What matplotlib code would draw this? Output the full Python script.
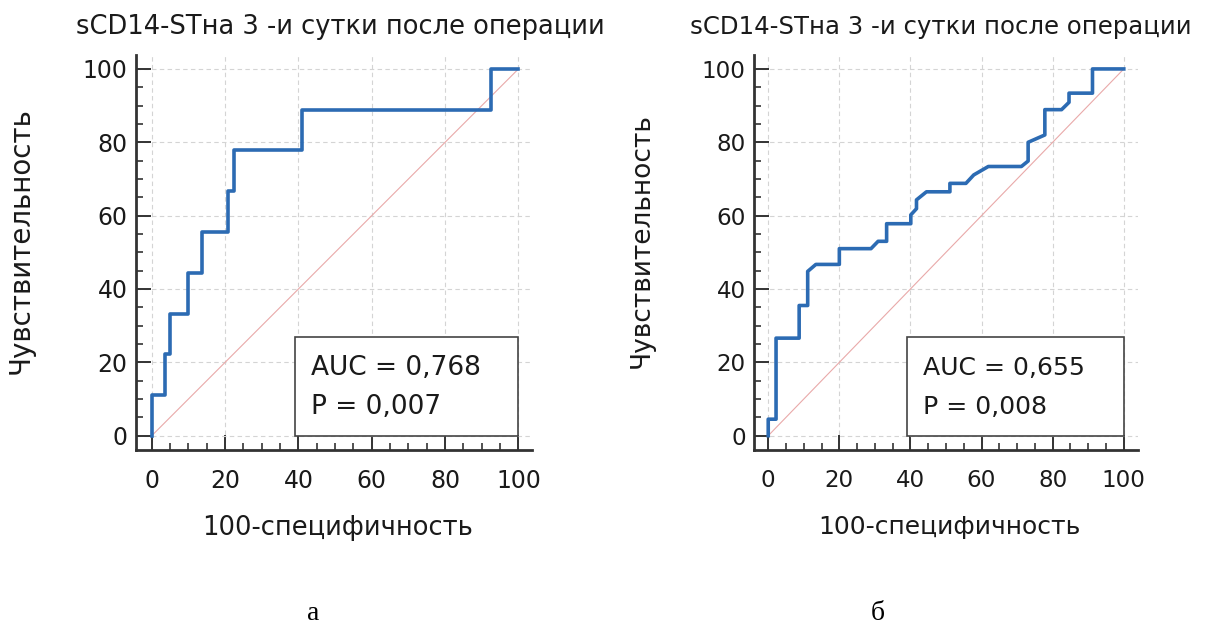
import matplotlib
matplotlib.use("Agg")
import matplotlib.pyplot as plt
from matplotlib.ticker import MultipleLocator
from matplotlib.patches import Rectangle

plt.rcParams['font.family'] = ['DejaVu Sans']

title = "sCD14-STна 3 -и сутки после операции"
xlabel = "100-специфичность"
ylabel = "Чувствительность"

# panel a: ROC steps (100-specificity, sensitivity)
fpr_a = [0, 0, 3.6, 3.6, 5, 5, 10, 10, 13.6, 13.6, 20.9, 20.9, 22.3, 22.3,
         40.9, 40.9, 92.5, 92.5, 100]
tpr_a = [0, 11.1, 11.1, 22.2, 22.2, 33.3, 33.3, 44.4, 44.4, 55.6, 55.6, 66.7,
         66.7, 77.8, 77.8, 88.9, 88.9, 100, 100]
auc_a = "AUC = 0,768"
p_a = "P = 0,007"

# panel b
fpr_b = [0, 0, 2.2, 2.2, 8.7, 8.7, 11.1, 11.1, 13.4, 20, 20, 28.9, 30.9, 33.3,
         33.3, 40.1, 40.1, 41.7, 41.7, 44.5, 51.1, 51.1, 55.6, 57.8, 61.9, 71.2,
         73.1, 73.1, 77.8, 77.8, 82.5, 84.6, 84.6, 91.2, 91.2, 100]
tpr_b = [0, 4.5, 4.5, 26.6, 26.6, 35.5, 35.5, 44.8, 46.7, 46.7, 51, 51, 53, 53,
         57.8, 57.8, 60.2, 61.9, 64.3, 66.5, 66.5, 68.8, 68.8, 71.1, 73.4, 73.4,
         74.9, 80, 82, 88.9, 88.9, 90.9, 93.4, 93.4, 100, 100]
auc_b = "AUC = 0,655"
p_b = "P = 0,008"

W, H = 1211, 626
fig = plt.figure(figsize=(W / 100, H / 100), dpi=100)


def panel(left_px, right_px, xlim, fpr, tpr, auc, p, title_x, ylab_x, k):
	# k scales the text a little: the right panel was pasted slightly smaller
	top_px, bot_px = 55, 450
	ax = fig.add_axes([left_px / W, (H - bot_px) / H,
	                   (right_px - left_px) / W, (bot_px - top_px) / H])
	ax.set_xlim(*xlim)
	ax.set_ylim(-3.9, 103.8)
	ax.plot([0, 100], [0, 100], color='#e9a9a9', lw=0.8, zorder=2)
	ax.plot(fpr, tpr, color='#2c6bb3', lw=2.6, zorder=3, clip_on=False)

	for s in ['top', 'right']:
		ax.spines[s].set_visible(False)
	for s in ['left', 'bottom']:
		ax.spines[s].set_linewidth(2)
		ax.spines[s].set_color('#333333')

	ax.xaxis.set_major_locator(MultipleLocator(20))
	ax.yaxis.set_major_locator(MultipleLocator(20))
	ax.xaxis.set_minor_locator(MultipleLocator(5))
	ax.yaxis.set_minor_locator(MultipleLocator(5))
	ax.tick_params(which='major', direction='in', length=11, width=1.4,
	               color='#333333', labelsize=17 * (1 + k) / 2,
	               labelcolor='#1a1a1a')
	ax.tick_params(which='minor', direction='in', length=5, width=1.2,
	               color='#333333')
	ax.tick_params(axis='x', which='major', pad=14)
	ax.tick_params(axis='y', which='major', pad=6)
	ax.grid(True, which='major', color='#d4d4d4', ls=(0, (4, 3)), lw=0.8)
	ax.set_axisbelow(True)

	box = Rectangle((39, 0), 61, 26.9, facecolor='white', edgecolor='#444444',
	                lw=1.2, zorder=4)
	ax.add_patch(box)
	ax.text(43.5, 18.5, auc, fontsize=19 * k, va='center', ha='left',
	        zorder=5, color='#1a1a1a')
	ax.text(43.5, 7.8, p, fontsize=19 * k, va='center', ha='left', zorder=5,
	        color='#1a1a1a')

	ax.set_xlabel(xlabel, fontsize=18.5 * (1 + k) / 2, color='#1a1a1a')
	ax.xaxis.set_label_coords(0.51, -0.165)
	ax.set_ylabel(ylabel, fontsize=20 * k, color='#1a1a1a')
	ax.yaxis.set_label_coords(ylab_x, 0.53)

	fig.text(title_x / W, (H - 34) / H, title, fontsize=18.5 * k,
	         ha='center', va='baseline', color='#1a1a1a')
	return ax


panel(136, 532, (-4.3, 103.7), fpr_a, tpr_a, auc_a, p_a, 340, -0.255, 1.0)
panel(754, 1138, (-4.0, 104.0), fpr_b, tpr_b, auc_b, p_b, 941, -0.258, 0.95)

fig.text(313 / W, (H - 614) / H, "а", family='Liberation Serif', fontsize=20,
         ha='center', va='center')
fig.text(878 / W, (H - 614) / H, "б", family='Liberation Serif', fontsize=20,
         ha='center', va='center')

plt.savefig("out.png", dpi=100)
